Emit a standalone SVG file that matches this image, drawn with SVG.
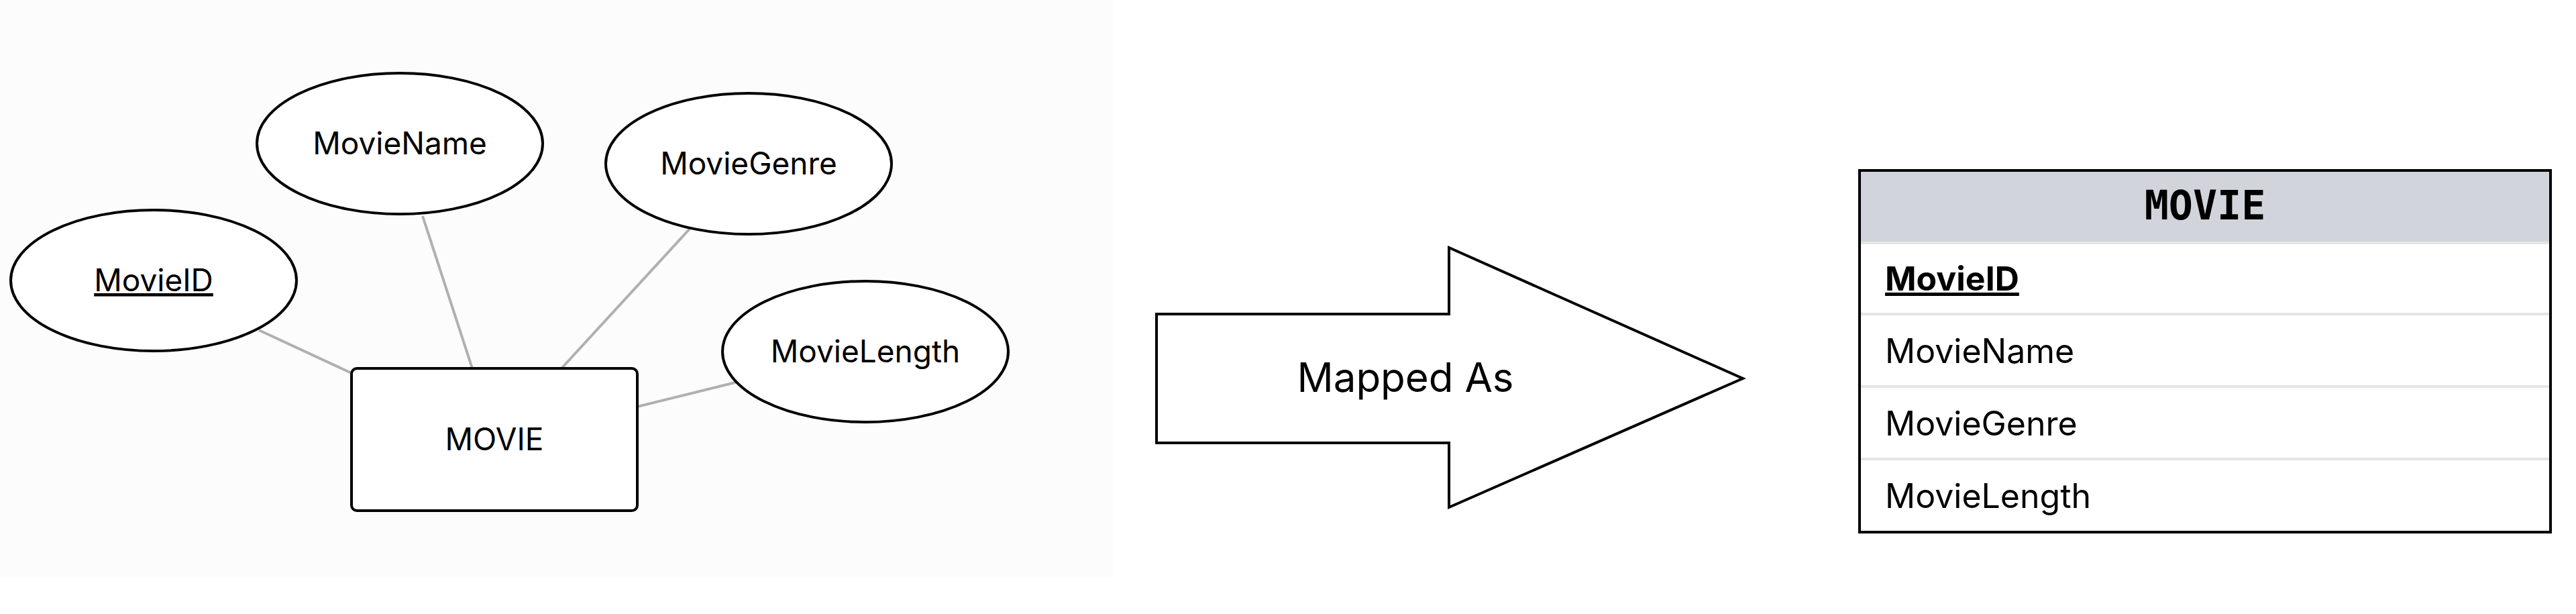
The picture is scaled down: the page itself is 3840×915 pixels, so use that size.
<svg xmlns="http://www.w3.org/2000/svg" width="3840" height="915" viewBox="0 0 3840 915">
<style>
.sh{fill:#fff;stroke:#000;stroke-width:4}
.t{font-family:Inter,"Noto Sans",sans-serif;font-size:46px;fill:#000}
.c line{stroke:#b0b0b0;stroke-width:4}
.r{font-family:Inter,"Noto Sans",sans-serif;font-size:50px;fill:#000}
.sep{stroke:#e5e5e5;stroke-width:4}
</style>
<rect width="3840" height="915" fill="#fff"/>
<rect x="0" y="0" width="1660" height="860" fill="#fcfcfc"/>
<g class="c" id="connectors">
<line x1="386" y1="492" x2="524" y2="556"/>
<line x1="630" y1="322" x2="704" y2="549"/>
<line x1="1029" y1="340" x2="837" y2="549"/>
<line x1="1100" y1="569" x2="950" y2="606"/>
</g>
<g id="movieid"><ellipse class="sh" cx="229" cy="418" rx="213" ry="105"/><text class="t" x="229" y="434" text-anchor="middle" text-decoration="underline">MovieID</text></g>
<g id="moviename"><ellipse class="sh" cx="596" cy="214" rx="213" ry="105"/><text class="t" x="596" y="230" text-anchor="middle">MovieName</text></g>
<g id="moviegenre"><ellipse class="sh" cx="1116" cy="244" rx="213" ry="105"/><text class="t" x="1116" y="260" text-anchor="middle">MovieGenre</text></g>
<g id="movielength"><ellipse class="sh" cx="1290" cy="524" rx="213" ry="105"/><text class="t" x="1290" y="540" text-anchor="middle">MovieLength</text></g>
<g id="movie"><rect class="sh" x="524" y="549" width="426" height="212" rx="8"/><text class="t" x="737" y="671" text-anchor="middle">MOVIE</text></g>
<g id="arrow"><polygon class="sh" stroke-width="3" points="1724,468 2160,468 2160,369 2598,564 2160,756 2160,660 1724,660"/><text x="2095" y="584" text-anchor="middle" font-family="Inter,'Noto Sans',sans-serif" font-size="60">Mapped As</text></g>
<g id="table">
<rect x="2772" y="254" width="1030" height="539" fill="#fff"/>
<rect x="2772" y="254" width="1030" height="108" fill="#d1d5db"/>
<line class="sep" x1="2774" y1="362" x2="3800" y2="362"/>
<line class="sep" x1="2774" y1="468" x2="3800" y2="468"/>
<line class="sep" x1="2774" y1="576" x2="3800" y2="576"/>
<line class="sep" x1="2774" y1="684" x2="3800" y2="684"/>
<rect x="2772" y="254" width="1030" height="539" fill="none" stroke="#000" stroke-width="4"/>
<text x="3287" y="327" text-anchor="middle" font-family="'DejaVu Sans Mono','Liberation Mono',monospace" font-weight="bold" font-size="60">MOVIE</text>
<text class="r" x="2810" y="433" font-weight="bold" text-decoration="underline">MovieID</text>
<text class="r" x="2810" y="541">MovieName</text>
<text class="r" x="2810" y="649">MovieGenre</text>
<text class="r" x="2810" y="757">MovieLength</text>
</g>
</svg>
